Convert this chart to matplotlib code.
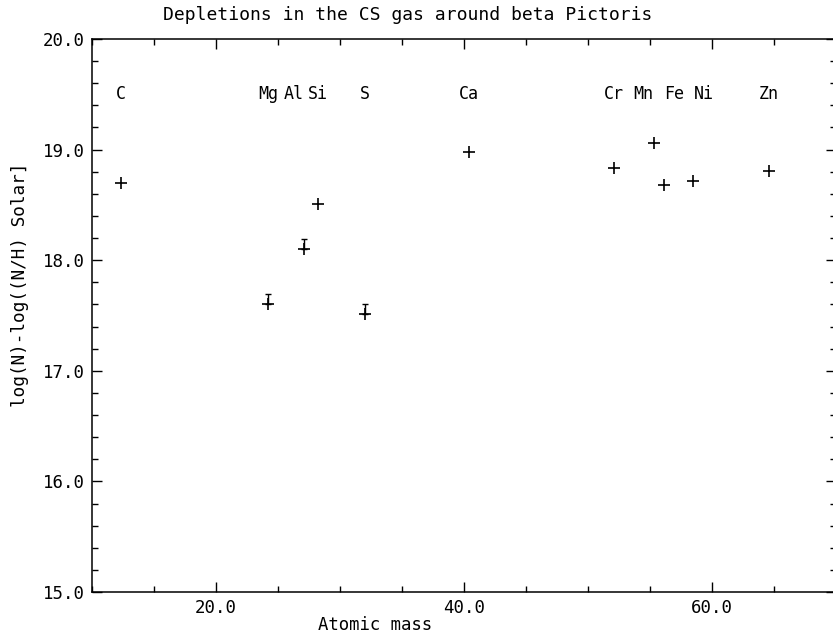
import matplotlib
matplotlib.use("Agg")
import matplotlib.pyplot as plt
from matplotlib.ticker import MultipleLocator, FormatStrFormatter

# element, atomic mass (as plotted), depletion value
elements = ['C', 'Mg', 'Al', 'Si', 'S', 'Ca', 'Cr', 'Mn', 'Fe', 'Ni', 'Zn']
mass = [12.3, 24.2, 27.1, 28.2, 32.0, 40.4, 52.1, 55.3, 56.1, 58.5, 64.6]
depletion = [18.70, 17.60, 18.10, 18.51, 17.51, 18.98, 18.83, 19.06, 18.68, 18.72, 18.81]

# upper error bars shown for three elements
err_elements = ['Mg', 'Al', 'S']
err_upper = [0.09, 0.09, 0.09]

# horizontal alignment of the element names above the points
label_ha = ['center', 'center', 'right', 'center', 'center', 'center',
            'center', 'right', 'left', 'left', 'center']
label_level = 19.5

plt.rcParams['font.family'] = ['DejaVu Sans Mono']
plt.rcParams['font.size'] = 12

fig = plt.figure(figsize=(8.33, 6.37), dpi=100)
# right edge of the frame sits just outside the picture, as in the scan
ax = fig.add_axes([92 / 833, 1 - 592 / 637, 744 / 833, 553 / 637])

ax.plot(mass, depletion, linestyle='none', marker='+', color='black',
        markersize=8, markeredgewidth=1.2)

ex = [mass[elements.index(e)] for e in err_elements]
ey = [depletion[elements.index(e)] for e in err_elements]
ax.errorbar(ex, ey, yerr=[[0] * len(err_upper), err_upper], fmt='none',
            ecolor='black', elinewidth=1.0, capsize=2.5, capthick=1.0)

for name, x, ha in zip(elements, mass, label_ha):
    ax.text(x, label_level, name, ha=ha, va='center', fontsize=12)

ax.set_xlim(10, 70)
ax.set_ylim(15, 20)
ax.xaxis.set_major_locator(MultipleLocator(20))
ax.xaxis.set_minor_locator(MultipleLocator(5))
ax.yaxis.set_major_locator(MultipleLocator(1))
ax.yaxis.set_minor_locator(MultipleLocator(0.2))
ax.xaxis.set_major_formatter(FormatStrFormatter('%.1f'))
ax.yaxis.set_major_formatter(FormatStrFormatter('%.1f'))
ax.tick_params(which='both', direction='in', top=True, right=True,
               width=1.0, labelsize=12.5)
ax.tick_params(which='major', length=7.5, pad=5)
ax.tick_params(which='minor', length=4.5)
for s in ax.spines.values():
    s.set_linewidth(1.1)
# the right frame line is cut off in the scan, only its ticks show
ax.spines['right'].set_visible(False)

fig.text(408 / 833, 1 - 15 / 637, 'Depletions in the CS gas around beta Pictoris',
         ha='center', va='center', fontsize=13)
fig.text(375 / 833, 1 - 625 / 637, 'Atomic mass', ha='center', va='center',
         fontsize=12.4)
fig.text(20 / 833, 1 - 285 / 637, 'log(N)-log((N/H) Solar]', ha='center',
         va='center', rotation=90, fontsize=12.8)

fig.savefig('out.png', dpi=100)
